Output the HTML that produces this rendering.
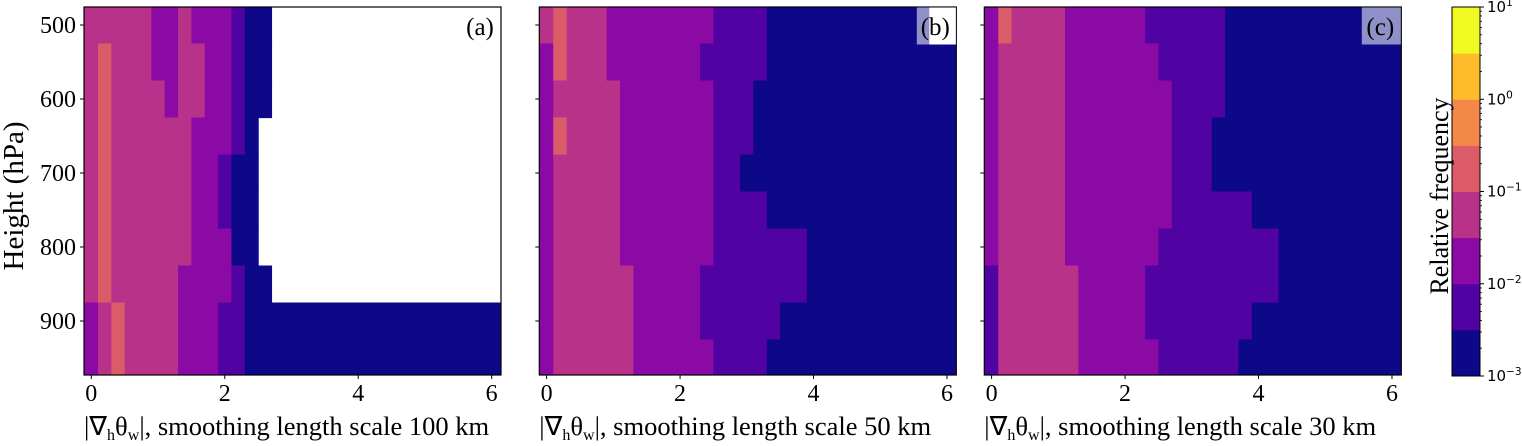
<!DOCTYPE html>
<html><head><meta charset="utf-8"><style>
html,body{margin:0;padding:0;background:#fff;}
svg{display:block;}
</style></head><body>
<svg id="fig" width="1522" height="446" viewBox="0 0 1522 446" xmlns="http://www.w3.org/2000/svg" font-family="'Liberation Serif', 'Times New Roman', serif"></svg>
<script>
// Data: frequency class per cell (0..7 => half-decade bins from 1e-3 to 1e1), '-' = no data
const pressureCenters=[500,550,600,650,700,750,800,850,900,950];
const gradCenters=[0,0.2,0.4,0.6,0.8,1.0,1.2,1.4,1.6,1.8,2.0,2.2,2.4,2.6,2.8,3.0,3.2,3.4,3.6,3.8,4.0,4.2,4.4,4.6,4.8,5.0,5.2,5.4,5.6,5.8,6.0];
const panelA=[
"33333223222100-----------------",
"34333223322100-----------------",
"34333323322100-----------------",
"3433333322210------------------",
"3433333322100------------------",
"3433333322100------------------",
"3433333322200------------------",
"34333332222100-----------------",
"2343333222110000000000000000000",
"2343333222110000000000000000000"];
const panelB=[
"3433322222222111100000000000000",
"2433322222221111100000000000000",
"2333332222222111000000000000000",
"2433332222222111000000000000000",
"2333332222222110000000000000000",
"2333332222222111100000000000000",
"2333332222222111111100000000000",
"2333333222221111111100000000000",
"2333333222221111110000000000000",
"2333333222222111100000000000000"];
const panelC=[
"2433332222221111110000000000000",
"2333332222222111110000000000000",
"2333332222222211110000000000000",
"2333332222222211100000000000000",
"2333332222222211100000000000000",
"2333332222222211111100000000000",
"2333332222222111111111000000000",
"1333333222221111111111000000000",
"1333333222221111111100000000000",
"1333333222222111111000000000000"];
const xTicks=[0,2,4,6];
const yTicks=[500,600,700,800,900];
const cbTickExp=[1,0,-1,-2,-3];
const panelLetters=["(a)","(b)","(c)"];
const scales=["100","50","30"];

const colors=["#0d0887","#5002a2","#8b0aa5","#b83289","#db5c68","#f48849","#febc2a","#f0f921"];
const SERIF="'Liberation Serif', 'Times New Roman', serif";
const NS="http://www.w3.org/2000/svg";
const svg=document.getElementById('fig');
function mk(tag,attrs,parent){const e=document.createElementNS(NS,tag);for(const k in attrs)e.setAttribute(k,attrs[k]);(parent||svg).appendChild(e);return e;}
function colorFor(v){const k=Math.floor((Math.log10(v)+3)*2);return colors[Math.max(0,Math.min(7,k))];}

const lefts=[84,539.3,984.3];
const W=417, axTop=7, axBot=375, pxPerUnit=66.73, zeroOff=7.3;
function yScale(p){return 25+(p-500)*0.74;}
const datas=[panelA,panelB,panelC];

datas.forEach((data,pi)=>{
  const L=lefts[pi], R=L+W;
  const xScale=v=>L+zeroOff+v*pxPerUnit;
  const g=mk('g',{});
  
  
  const cp=mk('clipPath',{id:'clip'+pi},g);
  mk('rect',{x:L,y:axTop,width:W,height:axBot-axTop},cp);
  const cells=mk('g',{'clip-path':'url(#clip'+pi+')'},g);
  data.forEach((row,ri)=>{
    const p=pressureCenters[ri];
    const y0=yScale(p-25), y1=yScale(p+25);
    for(let ci=0;ci<gradCenters.length;ci++){
      const ch=row[ci];
      if(ch==='-')continue;
      const val=Math.pow(10,-3+0.5*(+ch)+0.25);
      const c=gradCenters[ci];
      let x0=xScale(c-0.1), x1=xScale(c+0.1);
      if(ci===0)x0=L-2;
      if(ci===gradCenters.length-1)x1=R+2;
      const r=mk('rect',{x:x0,y:y0,width:x1-x0+0.6,height:y1-y0+0.6,fill:colorFor(val)},cells);
      
      
    }
  });
  const fr=mk('rect',{x:L,y:axTop,width:W,height:axBot-axTop,fill:'none',stroke:'#000','stroke-width':1.2},g);
  
  
  xTicks.forEach(t=>{
    const x=xScale(t);
    mk('line',{x1:x,y1:axBot,x2:x,y2:axBot+4,stroke:'#000','stroke-width':1},g);
    const tx=mk('text',{x:x,y:401,'font-size':24,'text-anchor':'middle','font-family':SERIF},g);
    tx.textContent=t;
    
    
  });
  yTicks.forEach(t=>{
    const y=yScale(t);
    mk('line',{x1:L-4,y1:y,x2:L,y2:y,stroke:'#000','stroke-width':1},g);
    if(pi===0){
      const ty=mk('text',{x:76,y:y+8,'font-size':24,'text-anchor':'end','font-family':SERIF},g);
      ty.textContent=t;
      
      
    }
  });
  const xl=mk('text',{x:L,y:435,'font-size':26.5,'font-family':SERIF},g);
  
  
  xl.innerHTML='|∇<tspan font-size="16" dy="5">h</tspan><tspan dy="-5">θ</tspan><tspan font-size="16" dy="5">w</tspan><tspan dy="-5">|, smoothing length scale '+scales[pi]+' km</tspan>';
  if(pi>0){
    mk('rect',{x:R-39.5,y:axTop+0.5,width:39,height:37,fill:'#9090c8'},g);
    if(pi===1) mk('rect',{x:R-27,y:axTop+0.5,width:26.5,height:37,fill:'#fff'},g);
  }
  const pl=mk('text',{x:R-21,y:35,'font-size':25,'text-anchor':'middle','font-family':SERIF},g);
  pl.textContent=panelLetters[pi];
  
  
});

const yt=mk('text',{x:0,y:0,'font-size':29,'text-anchor':'middle','font-family':SERIF,transform:'translate(23,196) rotate(-90)'});
yt.textContent='Height (hPa)';



const cb=mk('g',{});


const cbL=1452, cbR=1480, cbT=7, cbB=376;
const cbY=e=>cbB-(e+3)*(cbB-cbT)/4;
for(let k=0;k<8;k++){
  const y0=cbY(-3+0.5*(k+1)), y1=cbY(-3+0.5*k);
  const r=mk('rect',{x:cbL,y:y0,width:cbR-cbL,height:y1-y0+0.5,fill:colors[k]},cb);
  
  
}
mk('rect',{x:cbL,y:cbT,width:cbR-cbL,height:cbB-cbT,fill:'none',stroke:'#000','stroke-width':1},cb);
cbTickExp.forEach(e=>{
  const y=cbY(e);
  mk('line',{x1:cbR,y1:y,x2:cbR+4,y2:y,stroke:'#000','stroke-width':1},cb);
  const t=mk('text',{x:cbR+7,y:y+5,'font-size':15,'font-family':"'DejaVu Sans', sans-serif"},cb);
  t.innerHTML='10<tspan font-size="10.5" dy="-6">'+(e<0?'−'+(-e):e)+'</tspan>';
  
  
});
for(let e=-3;e<1;e++){for(let m=2;m<10;m++){
  const y=cbY(e+Math.log10(m));
  mk('line',{x1:cbR,y1:y,x2:cbR+2,y2:y,stroke:'#000','stroke-width':0.8},cb);
}}
const cl=mk('text',{x:0,y:0,'font-size':26,'text-anchor':'middle','font-family':SERIF,transform:'translate(1448,196) rotate(-90)'},cb);
cl.textContent='Relative frequency';


</script>
</body></html>
